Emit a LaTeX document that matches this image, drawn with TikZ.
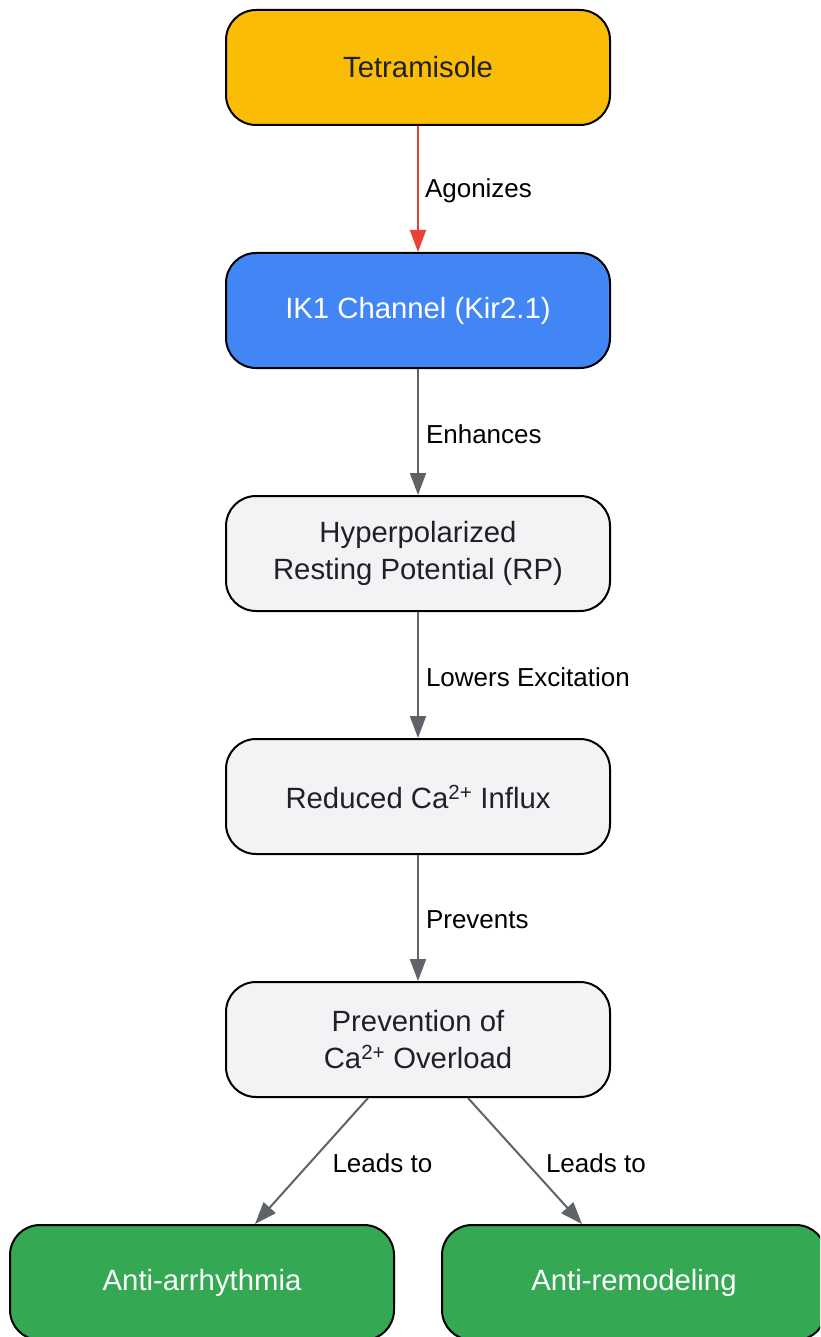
\documentclass[tikz,border=0pt]{standalone}
\usepackage{fontspec}
\setmainfont{Liberation Sans}
\usetikzlibrary{arrows.meta,calc}
\definecolor{cyellow}{HTML}{FBBC05}
\definecolor{cblue}{HTML}{4285F4}
\definecolor{cgray}{HTML}{F1F3F4}
\definecolor{cgreen}{HTML}{34A853}
\definecolor{cred}{HTML}{EA4335}
\definecolor{carrow}{HTML}{5F6368}
\definecolor{ctext}{HTML}{202124}
\tikzset{
  box/.style={draw=black, line width=2pt, rounded corners=30pt, minimum width=384pt, minimum height=115pt, align=center, font=\fontsize{29.3}{37}\selectfont, text=ctext},
  conn/.style={line width=2pt, draw=carrow, -{Triangle[length=22pt,width=16pt]}, carrow},
  lbl/.style={anchor=west, inner sep=0pt, yshift=-2pt, font=\fontsize{26}{30}\selectfont, text=black}
}
\begin{document}
\begin{tikzpicture}[x=1pt,y=-1pt]
\clip (0,0) rectangle (820,1337);
\fill[white] (0,0) rectangle (820,1337);
\node[box, fill=cyellow] (tet) at (418,67.5) {Tetramisole};
\node[box, fill=cblue, text=white] (ik1) at (418,310.5) {IK1 Channel (Kir2.1)};
\node[box, fill=cgray] (hyp) at (418,553.5) {Hyperpolarized\\Resting Potential (RP)};
\node[box, fill=cgray] (red) at (418,796.5) {Reduced Ca\textsuperscript{2+} Influx};
\node[box, fill=cgray] (prev) at (418,1039.5) {Prevention of\\Ca\textsuperscript{2+} Overload};
\node[box, fill=cgreen, text=white] (aa) at (202,1282.5) {Anti-arrhythmia};
\node[box, fill=cgreen, text=white] (ar) at (634,1282.5) {Anti-remodeling};
\draw[conn, draw=cred, cred] (tet) -- node[lbl, xshift=6pt] {Agonizes} (ik1);
\draw[conn] (ik1) -- node[lbl, xshift=7pt] {Enhances} (hyp);
\draw[conn] (hyp) -- node[lbl, xshift=7pt] {Lowers Excitation} (red);
\draw[conn] (red) -- node[lbl, xshift=7pt] {Prevents} (prev);
\draw[conn] ($(prev.south)+(-50,0)$) -- node[lbl, xshift=20pt] {Leads to} ($(aa.north)+(53,0)$);
\draw[conn] ($(prev.south)+(50,0)$) -- node[lbl, xshift=20pt] {Leads to} ($(ar.north)+(-52,0)$);
\end{tikzpicture}
\end{document}
